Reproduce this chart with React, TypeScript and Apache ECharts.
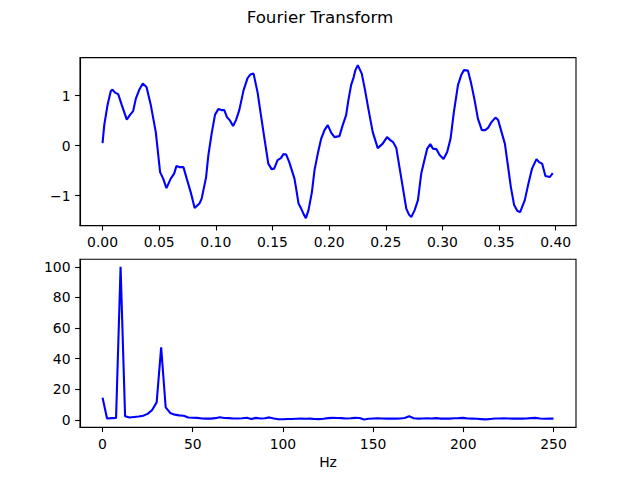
import React, { useEffect, useRef } from "react";
import * as echarts from "echarts";

// Time signal (seconds, amplitude)
const timeS = [
  0.0, 0.0015, 0.0044, 0.0073, 0.0088, 0.011, 0.0138, 0.017, 0.0214, 0.0244,
  0.027, 0.0294, 0.0323, 0.0355, 0.0388, 0.0426, 0.047, 0.0508, 0.0535, 0.0564,
  0.0602, 0.0632, 0.0652, 0.0676, 0.0714, 0.0743, 0.0778, 0.0813, 0.0855, 0.0875,
  0.0914, 0.0934, 0.0963, 0.0993, 0.1022, 0.105, 0.1075, 0.1098, 0.1122, 0.1152,
  0.1178, 0.1207, 0.1245, 0.128, 0.1304, 0.1333, 0.1368, 0.1398, 0.1427, 0.1463,
  0.1492, 0.1515, 0.1545, 0.1574, 0.1597, 0.1621, 0.1648, 0.1694, 0.1709, 0.173,
  0.1753, 0.1777, 0.1795, 0.1818, 0.1848, 0.1871, 0.19, 0.193, 0.1959, 0.1988,
  0.2018, 0.2047, 0.2091, 0.212, 0.215, 0.217, 0.2194, 0.2217, 0.2232, 0.2253,
  0.2288, 0.2317, 0.2346, 0.2385, 0.2429, 0.2473, 0.2511, 0.254, 0.2564, 0.2593,
  0.2623, 0.2652, 0.2681, 0.2705, 0.2725, 0.2755, 0.2784, 0.2813, 0.2837, 0.2866,
  0.2893, 0.2916, 0.2946, 0.2975, 0.301, 0.3042, 0.3072, 0.3101, 0.3137, 0.3166,
  0.319, 0.3225, 0.3254, 0.3284, 0.3313, 0.3348, 0.3377, 0.3405, 0.3433, 0.3468,
  0.3492, 0.3522, 0.3551, 0.3574, 0.3604, 0.3633, 0.3662, 0.3686, 0.3727, 0.3756,
  0.3791, 0.383, 0.3853, 0.388, 0.3909, 0.3947, 0.3974,
];
const signal = [
  0.05, 0.41, 0.81, 1.09, 1.12, 1.06, 1.03, 0.81, 0.52, 0.62,
  0.69, 0.94, 1.11, 1.24, 1.17, 0.81, 0.27, -0.53, -0.66, -0.85,
  -0.66, -0.56, -0.41, -0.43, -0.43, -0.66, -0.93, -1.25, -1.16, -1.06,
  -0.63, -0.19, 0.24, 0.62, 0.73, 0.71, 0.71, 0.57, 0.51, 0.39,
  0.51, 0.71, 1.11, 1.35, 1.42, 1.44, 1.07, 0.61, 0.17, -0.36,
  -0.47, -0.46, -0.29, -0.25, -0.17, -0.18, -0.33, -0.66, -0.86, -1.16,
  -1.26, -1.38, -1.45, -1.29, -0.93, -0.49, -0.16, 0.14, 0.31, 0.41,
  0.26, 0.17, 0.19, 0.41, 0.61, 0.91, 1.21, 1.37, 1.51, 1.61,
  1.44, 1.11, 0.74, 0.27, -0.05, 0.04, 0.17, 0.11, 0.07, -0.05,
  -0.46, -0.86, -1.26, -1.38, -1.43, -1.29, -1.09, -0.56, -0.33, -0.06,
  0.03, -0.06, -0.07, -0.19, -0.27, -0.13, 0.14, 0.67, 1.21, 1.41,
  1.51, 1.5, 1.24, 0.91, 0.54, 0.31, 0.31, 0.36, 0.47, 0.56,
  0.51, 0.27, 0.04, -0.33, -0.83, -1.19, -1.31, -1.33, -1.09, -0.79,
  -0.46, -0.27, -0.33, -0.36, -0.61, -0.63, -0.55,
];

// Spectrum magnitude, one value per 2.5 Hz bin from 0 to 250 Hz
const freqStepHz = 2.5;
const magnitude = [
  14.6, 1.0, 1.2, 1.4, 100.0, 2.5, 1.6, 2.0, 2.3, 2.8,
  4.0, 6.5, 11.5, 47.5, 8.3, 4.6, 3.5, 3.0, 2.8, 1.6,
  1.5, 1.4, 1.0, 0.9, 0.9, 1.2, 1.8, 1.3, 1.2, 1.0,
  1.0, 1.1, 1.5, 0.7, 1.4, 1.0, 1.1, 1.7, 1.0, 0.5,
  0.5, 0.7, 0.7, 0.8, 0.9, 0.8, 0.9, 0.7, 0.6, 0.8,
  1.2, 1.4, 1.3, 1.2, 1.0, 1.1, 1.4, 1.3, 0.3, 0.8,
  1.0, 1.1, 1.0, 0.9, 1.0, 0.9, 1.0, 1.3, 2.4, 1.1,
  0.9, 1.0, 1.1, 1.0, 1.2, 0.9, 1.0, 0.9, 1.1, 1.2,
  1.4, 1.0, 0.9, 0.8, 0.6, 0.4, 0.7, 1.0, 1.0, 1.1,
  1.0, 0.9, 1.0, 0.9, 1.0, 1.2, 1.4, 1.0, 0.8, 0.9,
  0.9,
];

const topXTicks = [0, 0.05, 0.1, 0.15, 0.2, 0.25, 0.3, 0.35, 0.4];
const topYTicks = [-1, 0, 1];
const botXTicks = [0, 50, 100, 150, 200, 250];
const botYTicks = [0, 20, 40, 60, 80, 100];

const titleText = "Fourier Transform";
const botXName = "Hz";

const FONT = "DejaVu Sans";
const BLUE = "#0000ff";

const minusFmt = (v: number, digits: number) => {
  const s = Math.abs(v).toFixed(digits);
  return v < 0 ? "\u2212" + s : s;
};

function axisCommon(ticks: number[], fmt: (v: number) => string) {
  return {
    axisLine: { show: true, onZero: false, lineStyle: { color: "#000", width: 1.1 } },
    axisTick: {
      show: true,
      inside: false,
      length: 4.9,
      lineStyle: { color: "#000", width: 1.1 },
      customValues: ticks,
    },
    axisLabel: {
      show: true,
      margin: 9.5,
      color: "#000",
      fontFamily: FONT,
      fontSize: 13.9,
      customValues: ticks,
      formatter: (v: number) => fmt(v),
    },
    splitLine: { show: false },
  };
}

export default function App() {
  const ref = useRef<HTMLDivElement>(null);

  useEffect(() => {
    if (!ref.current) return;
    const chart = echarts.init(ref.current, undefined, { renderer: "svg" });

    const timeData = timeS.map((t, i) => [t, signal[i]]);
    const specData = magnitude.map((m, i) => [i * freqStepHz, m]);

    const option = {
      animation: false,
      backgroundColor: "#ffffff",
      title: {
        text: titleText,
        left: "center",
        top: 3,
        textStyle: {
          fontFamily: FONT,
          fontSize: 16.7,
          fontWeight: "normal",
          color: "#000",
        },
      },
      grid: [
        {
          left: 80,
          top: 57.6,
          width: 496,
          height: 168,
          show: true,
          borderColor: "#000",
          borderWidth: 1.1,
          backgroundColor: "transparent",
        },
        {
          left: 80,
          top: 259.2,
          width: 496,
          height: 168,
          show: true,
          borderColor: "#000",
          borderWidth: 1.1,
          backgroundColor: "transparent",
        },
      ],
      xAxis: [
        {
          type: "value",
          gridIndex: 0,
          min: -0.0199,
          max: 0.4179,
          ...axisCommon(topXTicks, (v) => minusFmt(v, 2)),
        },
        {
          type: "value",
          gridIndex: 1,
          min: -12.5,
          max: 262.5,
          name: botXName,
          nameLocation: "middle",
          nameGap: 28,
          nameTextStyle: { fontFamily: FONT, fontSize: 13.9, color: "#000" },
          ...axisCommon(botXTicks, (v) => minusFmt(v, 0)),
        },
      ],
      yAxis: [
        {
          type: "value",
          gridIndex: 0,
          min: -1.6,
          max: 1.76,
          ...axisCommon(topYTicks, (v) => minusFmt(v, 0)),
        },
        {
          type: "value",
          gridIndex: 1,
          min: -4.7,
          max: 105,
          ...axisCommon(botYTicks, (v) => minusFmt(v, 0)),
        },
      ],
      series: [
        {
          type: "line",
          xAxisIndex: 0,
          yAxisIndex: 0,
          data: timeData,
          showSymbol: false,
          symbol: "none",
          lineStyle: { color: BLUE, width: 2.1 },
          silent: true,
        },
        {
          type: "line",
          xAxisIndex: 1,
          yAxisIndex: 1,
          data: specData,
          showSymbol: false,
          symbol: "none",
          lineStyle: { color: BLUE, width: 2.1 },
          silent: true,
        },
      ],
    };

    chart.setOption(option as any);
    return () => chart.dispose();
  }, []);

  return (
    <div
      ref={ref}
      style={{ position: "fixed", left: 0, top: 0, width: 640, height: 480, background: "#fff" }}
    />
  );
}
